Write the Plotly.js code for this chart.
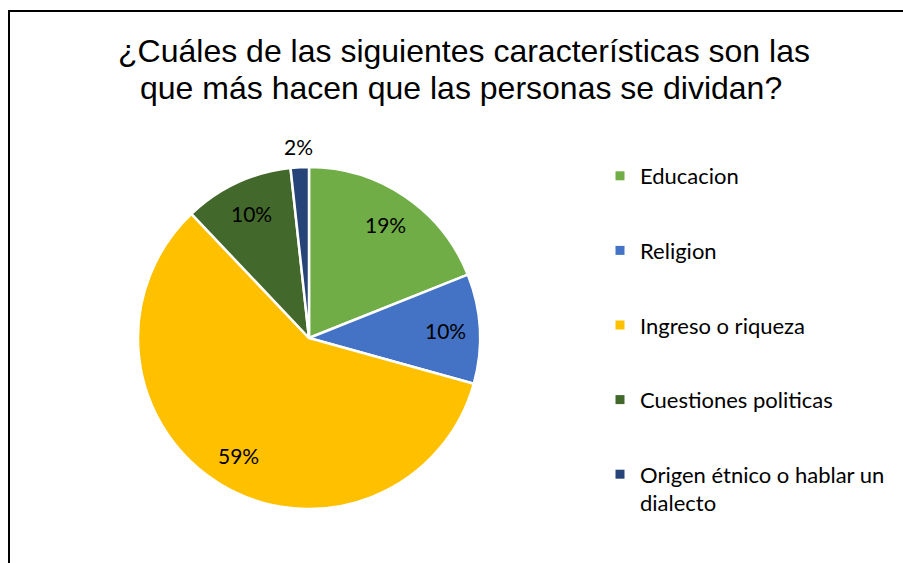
<!DOCTYPE html>
<html>
<head>
<meta charset="utf-8">
<script src="https://cdn.plot.ly/plotly-3.0.1.min.js"></script>
<style>
html, body { margin: 0; padding: 0; overflow: hidden; background: #fff; }
#chart { position: absolute; left: 0; top: 0; width: 903px; height: 563px; }
#frame { position: absolute; left: 8px; top: 10px; width: 1000px; height: 1000px; border: 2px solid #000; pointer-events: none; }
</style>
</head>
<body>
<div id="chart"></div>
<div id="frame"></div>
<script>
var categories = ["Educacion", "Religion", "Ingreso o riqueza", "Cuestiones politicas", "Origen étnico o hablar un<br>dialecto"];
var counts = [11, 6, 34, 6, 1];
var colors = ["#70AD47", "#4472C4", "#FFC000", "#43682B", "#264478"];
var labelOutside = [false, false, false, false, true];
var titleLines = ["¿Cuáles de las siguientes características son las", "que más hacen que las personas se dividan?"];

var W = 903, H = 563;
var cx = 309, cy = 338, r = 171;

var traces = [{
  type: "pie",
  labels: categories,
  values: counts,
  sort: false,
  direction: "clockwise",
  rotation: 0,
  marker: { colors: colors, line: { color: "#ffffff", width: 2.5 } },
  textinfo: "none",
  showlegend: false,
  hoverinfo: "label+percent",
  domain: { x: [(cx - r) / W, (cx + r) / W], y: [(H - cy - r) / H, (H - cy + r) / H] }
}];

for (var i = 0; i < categories.length; i++) {
  traces.push({
    type: "scatter",
    mode: "markers",
    x: [null], y: [null],
    name: categories[i],
    legendgroup: "g" + i,
    marker: { symbol: "square", size: 9, color: colors[i] },
    hoverinfo: "skip",
    showlegend: true
  });
}

// data labels placed at each slice's mid-angle (derived from the counts)
var total = counts.reduce(function (a, b) { return a + b; }, 0);
var annotations = [];
var cum = 0;
for (var j = 0; j < counts.length; j++) {
  var mid = (cum + counts[j] / 2) / total * 2 * Math.PI;
  cum += counts[j];
  var d = r * (labelOutside[j] ? 1.12 : 0.8);
  var px = cx + d * Math.sin(mid);
  var py = cy - d * Math.cos(mid);
  annotations.push({
    text: Math.round(counts[j] / total * 100) + "%",
    x: px / W, y: 1 - py / H, xref: "paper", yref: "paper",
    xanchor: "center", yanchor: "middle", showarrow: false,
    font: { family: "Lato, sans-serif", size: 21, color: "#000" }
  });
}
annotations.push({
  text: titleLines[1],
  x: 461 / W, y: 1 - 88 / H, xref: "paper", yref: "paper",
  xanchor: "center", yanchor: "middle", showarrow: false,
  font: { family: "Liberation Sans, Arial, sans-serif", size: 32, color: "#000" }
});

var layout = {
  width: W, height: H,
  margin: { l: 0, r: 0, t: 0, b: 0 },
  paper_bgcolor: "#fff",
  plot_bgcolor: "#fff",
  title: {
    text: titleLines[0],
    font: { family: "Liberation Sans, Arial, sans-serif", size: 32, color: "#000" },
    x: 464 / W, xanchor: "center",
    y: 1 - 51 / H, yanchor: "middle",
    xref: "paper", yref: "container"
  },
  annotations: annotations,
  xaxis: { visible: false },
  yaxis: { visible: false },
  showlegend: true,
  legend: {
    x: 600 / W, xanchor: "left",
    y: 1 - 155 / H, yanchor: "top",
    font: { family: "Lato, sans-serif", size: 22, color: "#000" },
    tracegroupgap: 43,
    valign: "top",
    bgcolor: "rgba(0,0,0,0)"
  }
};

Plotly.newPlot("chart", traces, layout, { displayModeBar: false, staticPlot: true });
</script>
</body>
</html>
